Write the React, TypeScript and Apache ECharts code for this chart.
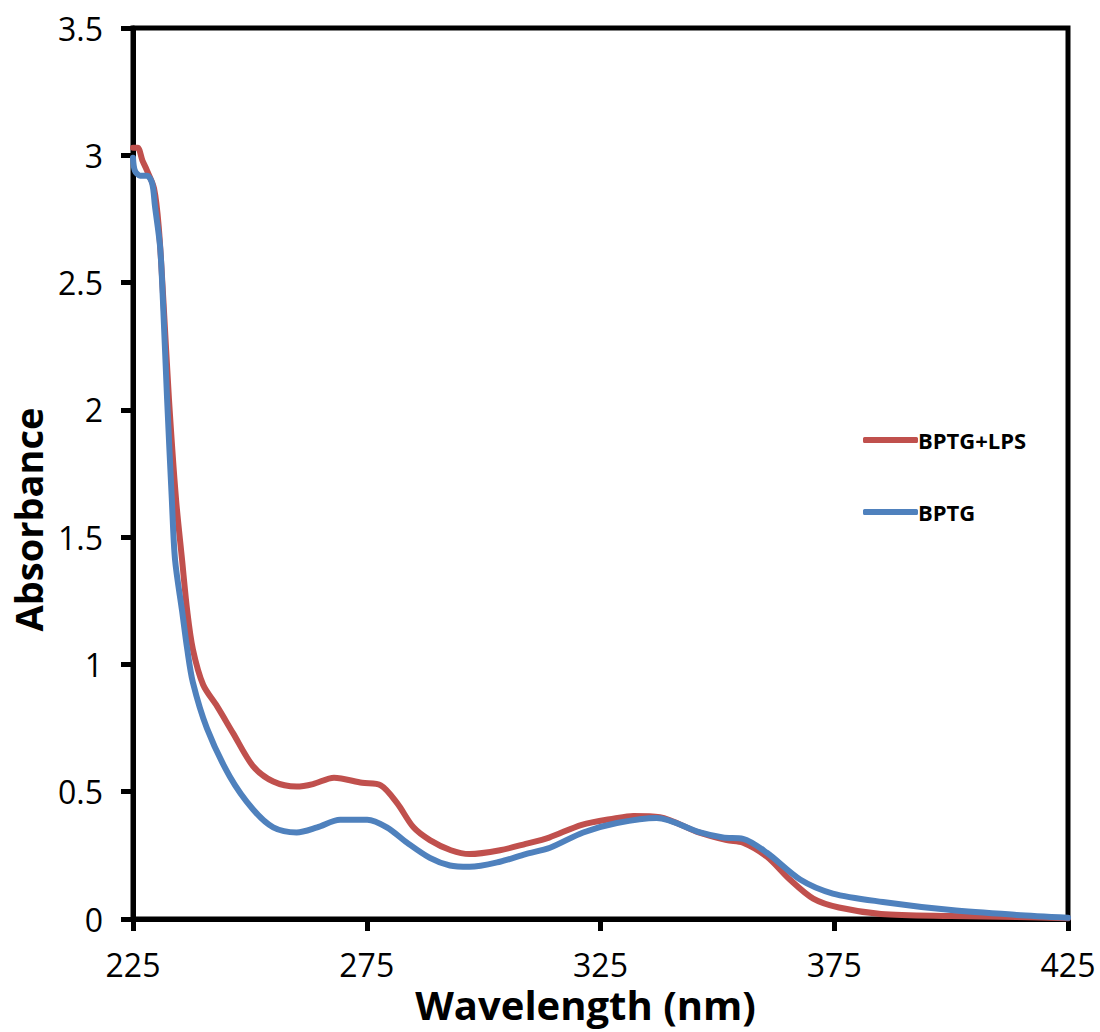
import React, { useEffect, useRef } from "react";
import * as echarts from "echarts";

// Wavelength (nm) / absorbance pairs
const bptgLpsWavelength = [225, 226, 227, 228, 229.5, 230.5, 231.5, 232.7, 234.2, 235.5, 236.6, 237.8, 240, 243, 246.4, 250.7, 255, 260, 263.5, 268, 274, 278, 281.5, 285, 288.5, 293, 297, 303.5, 309, 314, 321, 328, 332, 337.7, 346, 352, 355.5, 360.6, 365.5, 370.5, 376, 385, 400, 414, 425];
const bptgLpsAbsorbance = [3.03, 3.03, 2.98, 2.94, 2.87, 2.72, 2.43, 2.04, 1.65, 1.41, 1.21, 1.06, 0.92, 0.835, 0.73, 0.6, 0.54, 0.52, 0.53, 0.555, 0.535, 0.525, 0.455, 0.36, 0.31, 0.27, 0.255, 0.27, 0.295, 0.32, 0.37, 0.395, 0.405, 0.4, 0.34, 0.31, 0.3, 0.245, 0.155, 0.08, 0.045, 0.02, 0.012, 0.008, 0.003];

const bptgWavelength = [225, 225.4, 226.5, 228, 229.1, 229.7, 230.8, 231.4, 232.3, 233.3, 234, 235.5, 236.6, 237.8, 240.8, 245.7, 250.7, 255, 260, 264.4, 269.3, 275.1, 279.3, 283.6, 288.5, 292.8, 297, 303.5, 309, 314.2, 321.3, 328.5, 337, 346.3, 351.2, 355.5, 360.6, 367.7, 374.7, 385.4, 400, 414, 425];
const bptgAbsorbance = [2.99, 2.94, 2.92, 2.92, 2.89, 2.8, 2.64, 2.43, 2.04, 1.65, 1.41, 1.21, 1.06, 0.93, 0.75, 0.56, 0.43, 0.36, 0.34, 0.36, 0.39, 0.39, 0.36, 0.3, 0.24, 0.21, 0.205, 0.225, 0.255, 0.28, 0.34, 0.377, 0.397, 0.34, 0.32, 0.315, 0.26, 0.155, 0.1, 0.067, 0.035, 0.016, 0.005];

const seriesNames = ["BPTG+LPS", "BPTG"];
const xTitle = "Wavelength (nm)";
const yTitle = "Absorbance";

const zip = (xs: number[], ys: number[]) => xs.map((x, i) => [x, ys[i]]);

export default function App() {
  const ref = useRef<HTMLDivElement>(null);
  useEffect(() => {
    if (!ref.current) return;
    const chart = echarts.init(ref.current, null, { renderer: "svg" });
    const font = "'Open Sans', sans-serif";
    chart.setOption({
      animation: false,
      backgroundColor: "#fff",
      grid: {
        left: 133,
        top: 28,
        right: 32,
        bottom: 113,
        show: true,
        borderColor: "#000",
        borderWidth: 5,
      },
      legend: {
        orient: "vertical",
        left: 858,
        top: 424,
        itemWidth: 55,
        itemHeight: 6,
        itemGap: 50,
        icon: "roundRect",
        textStyle: { fontFamily: font, fontWeight: "bold", fontSize: 22, color: "#000", padding: [0, 0, 0, -5] },
        data: seriesNames,
      },
      xAxis: {
        type: "value",
        min: 225,
        max: 425,
        interval: 50,
        name: xTitle,
        nameLocation: "middle",
        nameGap: 63,
        nameTextStyle: { fontFamily: font, fontWeight: "bold", fontSize: 40, lineHeight: 40, color: "#000", padding: [0, 30, 0, 0] },
        axisLine: { show: true, onZero: false, lineStyle: { color: "#000", width: 5 } },
        axisTick: { show: true, length: 12, lineStyle: { color: "#000", width: 5 } },
        axisLabel: { fontFamily: font, fontSize: 32, lineHeight: 28, color: "#000", margin: 31 },
        splitLine: { show: false },
      },
      yAxis: {
        type: "value",
        min: 0,
        max: 3.5,
        interval: 0.5,
        name: yTitle,
        nameLocation: "middle",
        nameGap: 84,
        nameTextStyle: { fontFamily: font, fontWeight: "bold", fontSize: 38, color: "#000", padding: [0, 92, 0, 0] },
        axisLine: { show: true, lineStyle: { color: "#000", width: 5 } },
        axisTick: { show: true, length: 12, lineStyle: { color: "#000", width: 5 } },
        axisLabel: { fontFamily: font, fontSize: 32, color: "#000", margin: 30 },
        splitLine: { show: false },
      },
      series: [
        {
          name: seriesNames[0],
          type: "line",
          data: zip(bptgLpsWavelength, bptgLpsAbsorbance),
          smooth: 0.3,
          showSymbol: false,
          color: "#C0504D",
          lineStyle: { width: 6, color: "#C0504D", cap: "round", join: "round" },
        },
        {
          name: seriesNames[1],
          type: "line",
          data: zip(bptgWavelength, bptgAbsorbance),
          smooth: 0.3,
          showSymbol: false,
          color: "#4F81BD",
          lineStyle: { width: 6, color: "#4F81BD", cap: "round", join: "round" },
        },
      ],
    });
    return () => chart.dispose();
  }, []);
  return <div ref={ref} style={{ position: "absolute", left: 0, top: 0, width: 1100, height: 1032 }} />;
}
